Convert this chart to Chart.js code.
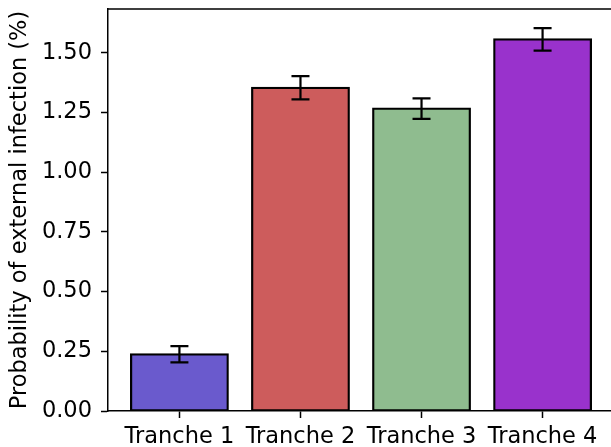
<!DOCTYPE html>
<html>
<head>
<meta charset="utf-8">
<script src="https://cdn.jsdelivr.net/npm/chart.js@4/dist/chart.umd.min.js"></script>
<style>
  html, body { margin: 0; padding: 0; background: #fff; overflow: hidden; }
  canvas { display: block; }
</style>
</head>
<body>
<canvas id="chart" width="620" height="447"></canvas>
<script>
// Probability of external infection per tranche, with error margins
const categories = ['Tranche 1', 'Tranche 2', 'Tranche 3', 'Tranche 4'];
const probabilities = [0.238, 1.354, 1.267, 1.557];
const errors = [0.034, 0.049, 0.043, 0.047];
const yTickValues = [0, 0.25, 0.5, 0.75, 1.0, 1.25, 1.5];

const barColors = ['#6A5ACD', '#CD5C5C', '#8FBC8F', '#9932CC'];
const FONT = { family: '"DejaVu Sans", sans-serif', size: 22.5 };

// Error bars drawn from the scales after the bars
const errorBarPlugin = {
  id: 'errorBars',
  afterDatasetsDraw(chart) {
    const { ctx, scales: { x, y } } = chart;
    ctx.save();
    ctx.strokeStyle = '#000';
    ctx.lineWidth = 2.2;
    probabilities.forEach((v, i) => {
      const px = x.getPixelForValue(i);
      const top = y.getPixelForValue(v + errors[i]);
      const bot = y.getPixelForValue(v - errors[i]);
      const cap = 9;
      ctx.beginPath();
      ctx.moveTo(px, top); ctx.lineTo(px, bot);
      ctx.moveTo(px - cap, top); ctx.lineTo(px + cap, top);
      ctx.moveTo(px - cap, bot); ctx.lineTo(px + cap, bot);
      ctx.stroke();
    });
    ctx.restore();
  }
};

// Top and right frame lines
const framePlugin = {
  id: 'frame',
  afterDraw(chart) {
    const { ctx, chartArea: a } = chart;
    ctx.save();
    ctx.strokeStyle = '#000';
    ctx.lineWidth = 1.5;
    ctx.beginPath();
    ctx.moveTo(a.left, a.top); ctx.lineTo(a.right, a.top); ctx.lineTo(a.right, a.bottom);
    ctx.stroke();
    ctx.restore();
  }
};

new Chart(document.getElementById('chart'), {
  type: 'bar',
  data: {
    datasets: [{
      data: probabilities.map((v, i) => ({ x: i, y: v })),
      backgroundColor: barColors,
      borderColor: '#000',
      borderWidth: 2.2,
      borderSkipped: false,
      inflateAmount: 1,
      barPercentage: 0.8,
      categoryPercentage: 1.0
    }]
  },
  options: {
    responsive: false,
    devicePixelRatio: 1,
    animation: false,
    layout: { padding: { top: 9, right: 6, left: 0, bottom: 0 } },
    plugins: { legend: { display: false }, tooltip: { enabled: false } },
    scales: {
      x: {
        type: 'linear',
        offset: false,
        min: -0.59,
        max: 3.59,
        afterBuildTicks(scale) { scale.ticks = categories.map((_, i) => ({ value: i })); },
        afterFit(scale) {
          scale.height = 36;
          scale.paddingLeft = 0; scale.paddingRight = 0;
        },
        ticks: {
          color: '#000',
          font: FONT,
          padding: 6,
          maxRotation: 0,
          autoSkip: false,
          callback: (v) => categories[v]
        },
        grid: { display: true, offset: false, drawOnChartArea: false, drawTicks: true, tickLength: 7, tickColor: '#000', tickWidth: 1.5 },
        border: { display: true, color: '#000', width: 1.5 }
      },
      y: {
        min: 0,
        max: 1.684,
        afterBuildTicks(scale) { scale.ticks = yTickValues.map(v => ({ value: v })); },
        afterFit(scale) {
          scale.width = 108;
          scale.paddingTop = 0; scale.paddingBottom = 0;
        },
        ticks: {
          color: '#000',
          font: FONT,
          padding: 9,
          callback: (v) => v.toFixed(2)
        },
        grid: { display: true, drawOnChartArea: false, drawTicks: true, tickLength: 7, tickColor: '#000', tickWidth: 1.5 },
        border: { display: true, color: '#000', width: 1.5 },
        title: {
          display: true,
          text: 'Probability of external infection (%)',
          color: '#000',
          font: FONT,
          padding: { top: 7, bottom: 0 }
        }
      }
    }
  },
  plugins: [errorBarPlugin, framePlugin]
});
</script>
</body>
</html>
